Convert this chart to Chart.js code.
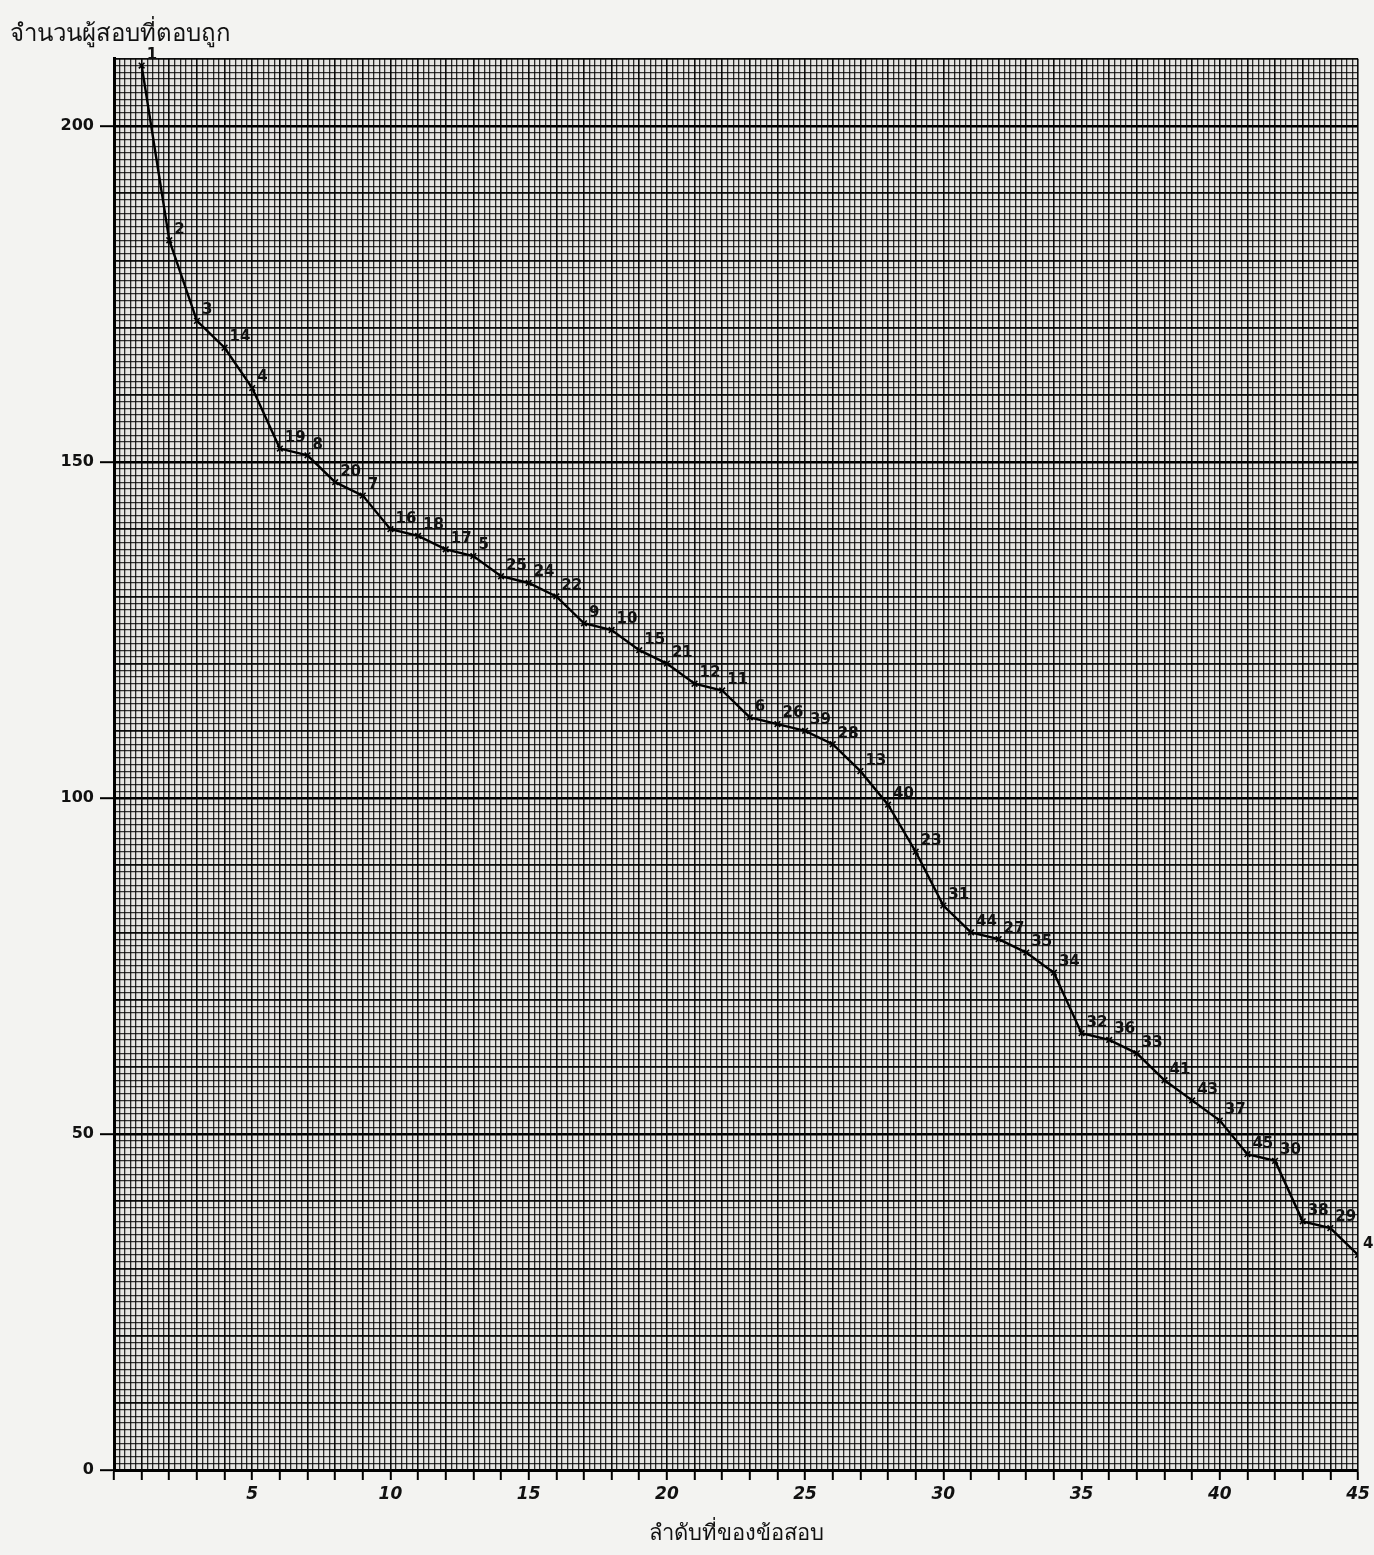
<!DOCTYPE html>
<html lang="th">
<head>
<meta charset="utf-8">
<title>จำนวนผู้สอบที่ตอบถูก</title>
<script src="https://cdn.jsdelivr.net/npm/chart.js@4.4.1/dist/chart.umd.min.js"></script>
<style>
    html, body { margin: 0; padding: 0; background: #f3f3f1; }
    #wrap { width: 1374px; height: 1555px; }
</style>
</head>
<body>
<div id="wrap"><canvas id="grafica" width="1374" height="1555"></canvas></div>
<script>
// ลำดับที่ (แกน x)
const lamdab = [1, 2, 3, 4, 5, 6, 7, 8, 9, 10, 11, 12, 13, 14, 15, 16, 17, 18, 19, 20, 21, 22, 23,
    24, 25, 26, 27, 28, 29, 30, 31, 32, 33, 34, 35, 36, 37, 38, 39, 40, 41, 42, 43, 44, 45];

// หมายเลขข้อสอบที่เขียนกำกับไว้ที่แต่ละจุด
const khoSob = ['1', '2', '3', '14', '4', '19', '8', '20', '7', '16', '18', '17', '5', '25', '24',
    '22', '9', '10', '15', '21', '12', '11', '6', '26', '39', '28', '13', '40', '23', '31', '44',
    '27', '35', '34', '32', '36', '33', '41', '43', '37', '45', '30', '38', '29', '42'];

// จำนวนผู้สอบที่ตอบถูก (อ่านจากกราฟ)
const tobTuk = [209, 183, 171, 167, 161, 152, 151, 147, 145, 140, 139, 137, 136, 133, 132,
    130, 126, 125, 122, 120, 117, 116, 112, 111, 110, 108, 104, 99, 92, 84, 80,
    79, 77, 74, 65, 64, 62, 58, 55, 52, 47, 46, 37, 36, 32];

// ป้ายแกน
const xLabels = [5, 10, 15, 20, 25, 30, 35, 40, 45];
const yLabels = [0, 50, 100, 150, 200];

const esCercano = (v, lista) => lista.some(n => Math.abs(v - n) < 1e-6);
const esEntero = v => Math.abs(v - Math.round(v)) < 1e-6;

// fondo de papel
const papel = {
    id: 'papel',
    beforeDraw(chart) {
        const ctx = chart.ctx;
        ctx.save();
        ctx.fillStyle = '#f3f3f1';
        ctx.fillRect(0, 0, chart.width, chart.height);
        ctx.fillStyle = '#e6e5e2';
        const a = chart.chartArea;
        ctx.fillRect(a.left, a.top, a.right - a.left, a.bottom - a.top);
        ctx.restore();
    }
};

// ตัวเลขข้อสอบข้างจุด
const etiquetas = {
    id: 'etiquetas',
    afterDatasetsDraw(chart) {
        const ctx = chart.ctx;
        const meta = chart.getDatasetMeta(0);
        ctx.save();
        ctx.font = 'bold 15px "DejaVu Sans"';
        ctx.fillStyle = '#111';
        ctx.textAlign = 'left';
        ctx.textBaseline = 'bottom';
        meta.data.forEach((p, i) => {
            ctx.fillText(khoSob[i], p.x + 5, p.y - 3);
        });
        ctx.restore();
    }
};

const datos = lamdab.map((x, i) => ({ x, y: tobTuk[i] }));

new Chart(document.getElementById('grafica'), {
    type: 'line',
    data: {
        datasets: [{
            data: datos,
            borderColor: '#000',
            borderWidth: 2.4,
            tension: 0,
            pointStyle: 'crossRot',
            pointRadius: 4,
            pointBorderWidth: 1.6,
            pointBorderColor: '#000',
            fill: false
        }]
    },
    options: {
        responsive: false,
        animation: false,
        layout: { padding: { left: 10, right: 16, top: 0, bottom: 0 } },
        plugins: {
            legend: { display: false },
            tooltip: { enabled: false },
            title: {
                display: true,
                text: 'จำนวนผู้สอบที่ตอบถูก',
                align: 'start',
                color: '#111',
                font: { family: '"Noto Sans", "DejaVu Sans"', size: 24, weight: 'normal' },
                padding: { top: 20, bottom: 10 }
            }
        },
        scales: {
            x: {
                type: 'linear',
                min: 0,
                max: 45,
                afterFit(scale) { scale.height = 85; },
                border: { color: '#000', width: 3 },
                grid: {
                    drawTicks: true,
                    tickLength: 10,
                    tickWidth: 2,
                    tickColor: ctx => esEntero(ctx.tick.value) ? '#000' : 'rgba(0,0,0,0)',
                    color: ctx => esEntero(ctx.tick.value) ? 'rgba(0,0,0,0.95)' : 'rgba(0,0,0,0.82)',
                    lineWidth: ctx => esEntero(ctx.tick.value) ? 1.6 : 1.3
                },
                ticks: {
                    stepSize: 0.2,
                    autoSkip: false,
                    maxRotation: 0,
                    padding: 4,
                    color: '#111',
                    font: { family: '"DejaVu Sans"', size: 17, style: 'italic', weight: 'bold' },
                    callback: v => esCercano(v, xLabels) ? String(Math.round(v)) : ''
                },
                title: {
                    display: true,
                    text: 'ลำดับที่ของข้อสอบ',
                    color: '#111',
                    font: { family: '"Noto Sans", "DejaVu Sans"', size: 22 },
                    padding: { top: 0, bottom: 8 }
                }
            },
            y: {
                type: 'linear',
                min: 0,
                max: 210,
                afterFit(scale) { scale.width = 104; },
                border: { color: '#000', width: 3 },
                grid: {
                    drawTicks: true,
                    tickLength: 14,
                    tickWidth: 2,
                    tickColor: ctx => esCercano(ctx.tick.value, yLabels) ? '#000' : 'rgba(0,0,0,0)',
                    color: ctx => {
                        const v = ctx.tick.value;
                        if (esCercano(v, yLabels)) return '#000';
                        if (Math.round(v) % 10 === 0) return 'rgba(0,0,0,0.95)';
                        return 'rgba(0,0,0,0.78)';
                    },
                    lineWidth: ctx => {
                        const v = ctx.tick.value;
                        if (esCercano(v, yLabels)) return 2.4;
                        if (Math.round(v) % 10 === 0) return 1.8;
                        return 1.2;
                    }
                },
                ticks: {
                    stepSize: 1,
                    autoSkip: false,
                    padding: 6,
                    color: '#111',
                    font: { family: '"DejaVu Sans"', size: 16, weight: 'bold' },
                    callback: v => esCercano(v, yLabels) ? String(v) : ''
                }
            }
        }
    },
    plugins: [papel, etiquetas]
});
</script>
</body>
</html>
